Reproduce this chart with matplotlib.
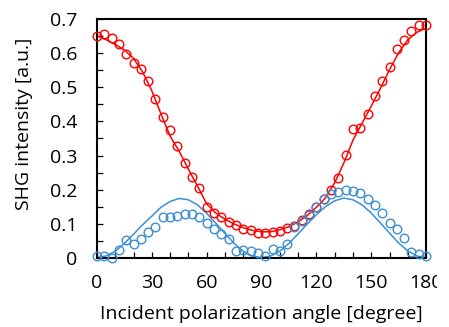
import numpy as np
import matplotlib
matplotlib.use("Agg")
import matplotlib.pyplot as plt
from matplotlib.ticker import MultipleLocator
from matplotlib.transforms import Bbox

# --- data ------------------------------------------------------------------
angle_pts = list(range(0, 181, 4))
red_pts = [0.651, 0.656, 0.646, 0.627, 0.597, 0.573, 0.553, 0.519, 0.465, 0.414,
           0.375, 0.329, 0.277, 0.238, 0.204, 0.148, 0.132, 0.119, 0.106, 0.096,
           0.085, 0.080, 0.073, 0.072, 0.075, 0.078, 0.086, 0.094, 0.111, 0.127,
           0.150, 0.172, 0.199, 0.235, 0.302, 0.378, 0.380, 0.422, 0.475, 0.519,
           0.559, 0.613, 0.639, 0.666, 0.683, 0.683]
blue_pts = [0.004, 0.005, 0.000, 0.022, 0.053, 0.039, 0.055, 0.074, 0.089, 0.120,
            0.120, 0.122, 0.129, 0.127, 0.119, 0.103, 0.084, 0.070, 0.054, 0.021,
            0.022, 0.021, 0.013, 0.006, 0.026, 0.021, 0.041, 0.091, 0.109, 0.125,
            0.150, 0.171, 0.186, 0.194, 0.199, 0.196, 0.189, 0.172, 0.155, 0.131,
            0.102, 0.083, 0.059, 0.016, 0.010, 0.004]

angle_fit = list(range(0, 181, 5))
red_fit = [0.652, 0.640, 0.626, 0.610, 0.585, 0.545, 0.490, 0.422, 0.357, 0.312,
           0.260, 0.210, 0.158, 0.131, 0.113, 0.099, 0.088, 0.080, 0.076, 0.076,
           0.082, 0.091, 0.105, 0.124, 0.148, 0.176, 0.220, 0.278, 0.345, 0.395,
           0.445, 0.497, 0.552, 0.602, 0.640, 0.662, 0.674]
blue_fit = [0.000, 0.005, 0.019, 0.042, 0.069, 0.097, 0.122, 0.148, 0.165, 0.174,
            0.170, 0.155, 0.130, 0.101, 0.071, 0.042, 0.019, 0.005, 0.000, 0.005,
            0.019, 0.042, 0.070, 0.099, 0.126, 0.150, 0.167, 0.175, 0.170, 0.155,
            0.131, 0.102, 0.072, 0.043, 0.020, 0.005, 0.000]

x_ticks = [0, 30, 60, 90, 120, 150, 180]
y_labels = ["0", "0.1", "0.2", "0.3", "0.4", "0.5", "0.6", "0.7"]

RED = "#ff0000"
BLUE = "#3b8fd3"

plt.rcParams['font.family'] = ['Open Sans', 'DejaVu Sans']

fig = plt.figure(figsize=(4.49, 3.27), dpi=100)
ax = fig.add_axes([0.216, 0.212, 0.733, 0.729])

ax.plot(angle_fit, red_fit, color=RED, lw=1.1, zorder=2)
ax.plot(angle_fit, blue_fit, color=BLUE, lw=1.1, zorder=2)
ax.plot(angle_pts, red_pts, 'o', mfc='none', mec=RED, ms=6.2, mew=1.0,
        clip_on=False, zorder=3)
ax.plot(angle_pts, blue_pts, 'o', mfc='none', mec=BLUE, ms=6.2, mew=1.0,
        clip_on=False, zorder=3)

ax.set_xlim(0, 180)
ax.set_ylim(0, 0.7)
ax.set_xticks(x_ticks)
ax.xaxis.set_minor_locator(MultipleLocator(10))
ax.yaxis.set_minor_locator(MultipleLocator(0.05))
ax.set_yticks(np.arange(0, 0.71, 0.1))
ax.set_yticklabels(y_labels)

ax.tick_params(which='both', direction='in', length=4, width=0.9, color='black')
ax.tick_params(axis='y', labelsize=14, pad=14)
ax.tick_params(axis='x', labelsize=14, pad=12)
for s in ax.spines.values():
    s.set_linewidth(1.5)
    s.set_color('black')

ax.set_xlabel("Incident polarization angle [degree]", fontsize=14)
ax.set_ylabel("SHG intensity [a.u.]", fontsize=14)
ax.xaxis.set_label_coords(0.5, -0.2)
ax.yaxis.set_label_coords(-0.195, 0.56)

# the last tick label is cut off at the right in the original
last = ax.get_xticklabels()[-1]
last.set_clip_box(Bbox([[0, 0], [437, 327]]))
last.set_clip_on(True)

fig.savefig("out.png", dpi=100)
